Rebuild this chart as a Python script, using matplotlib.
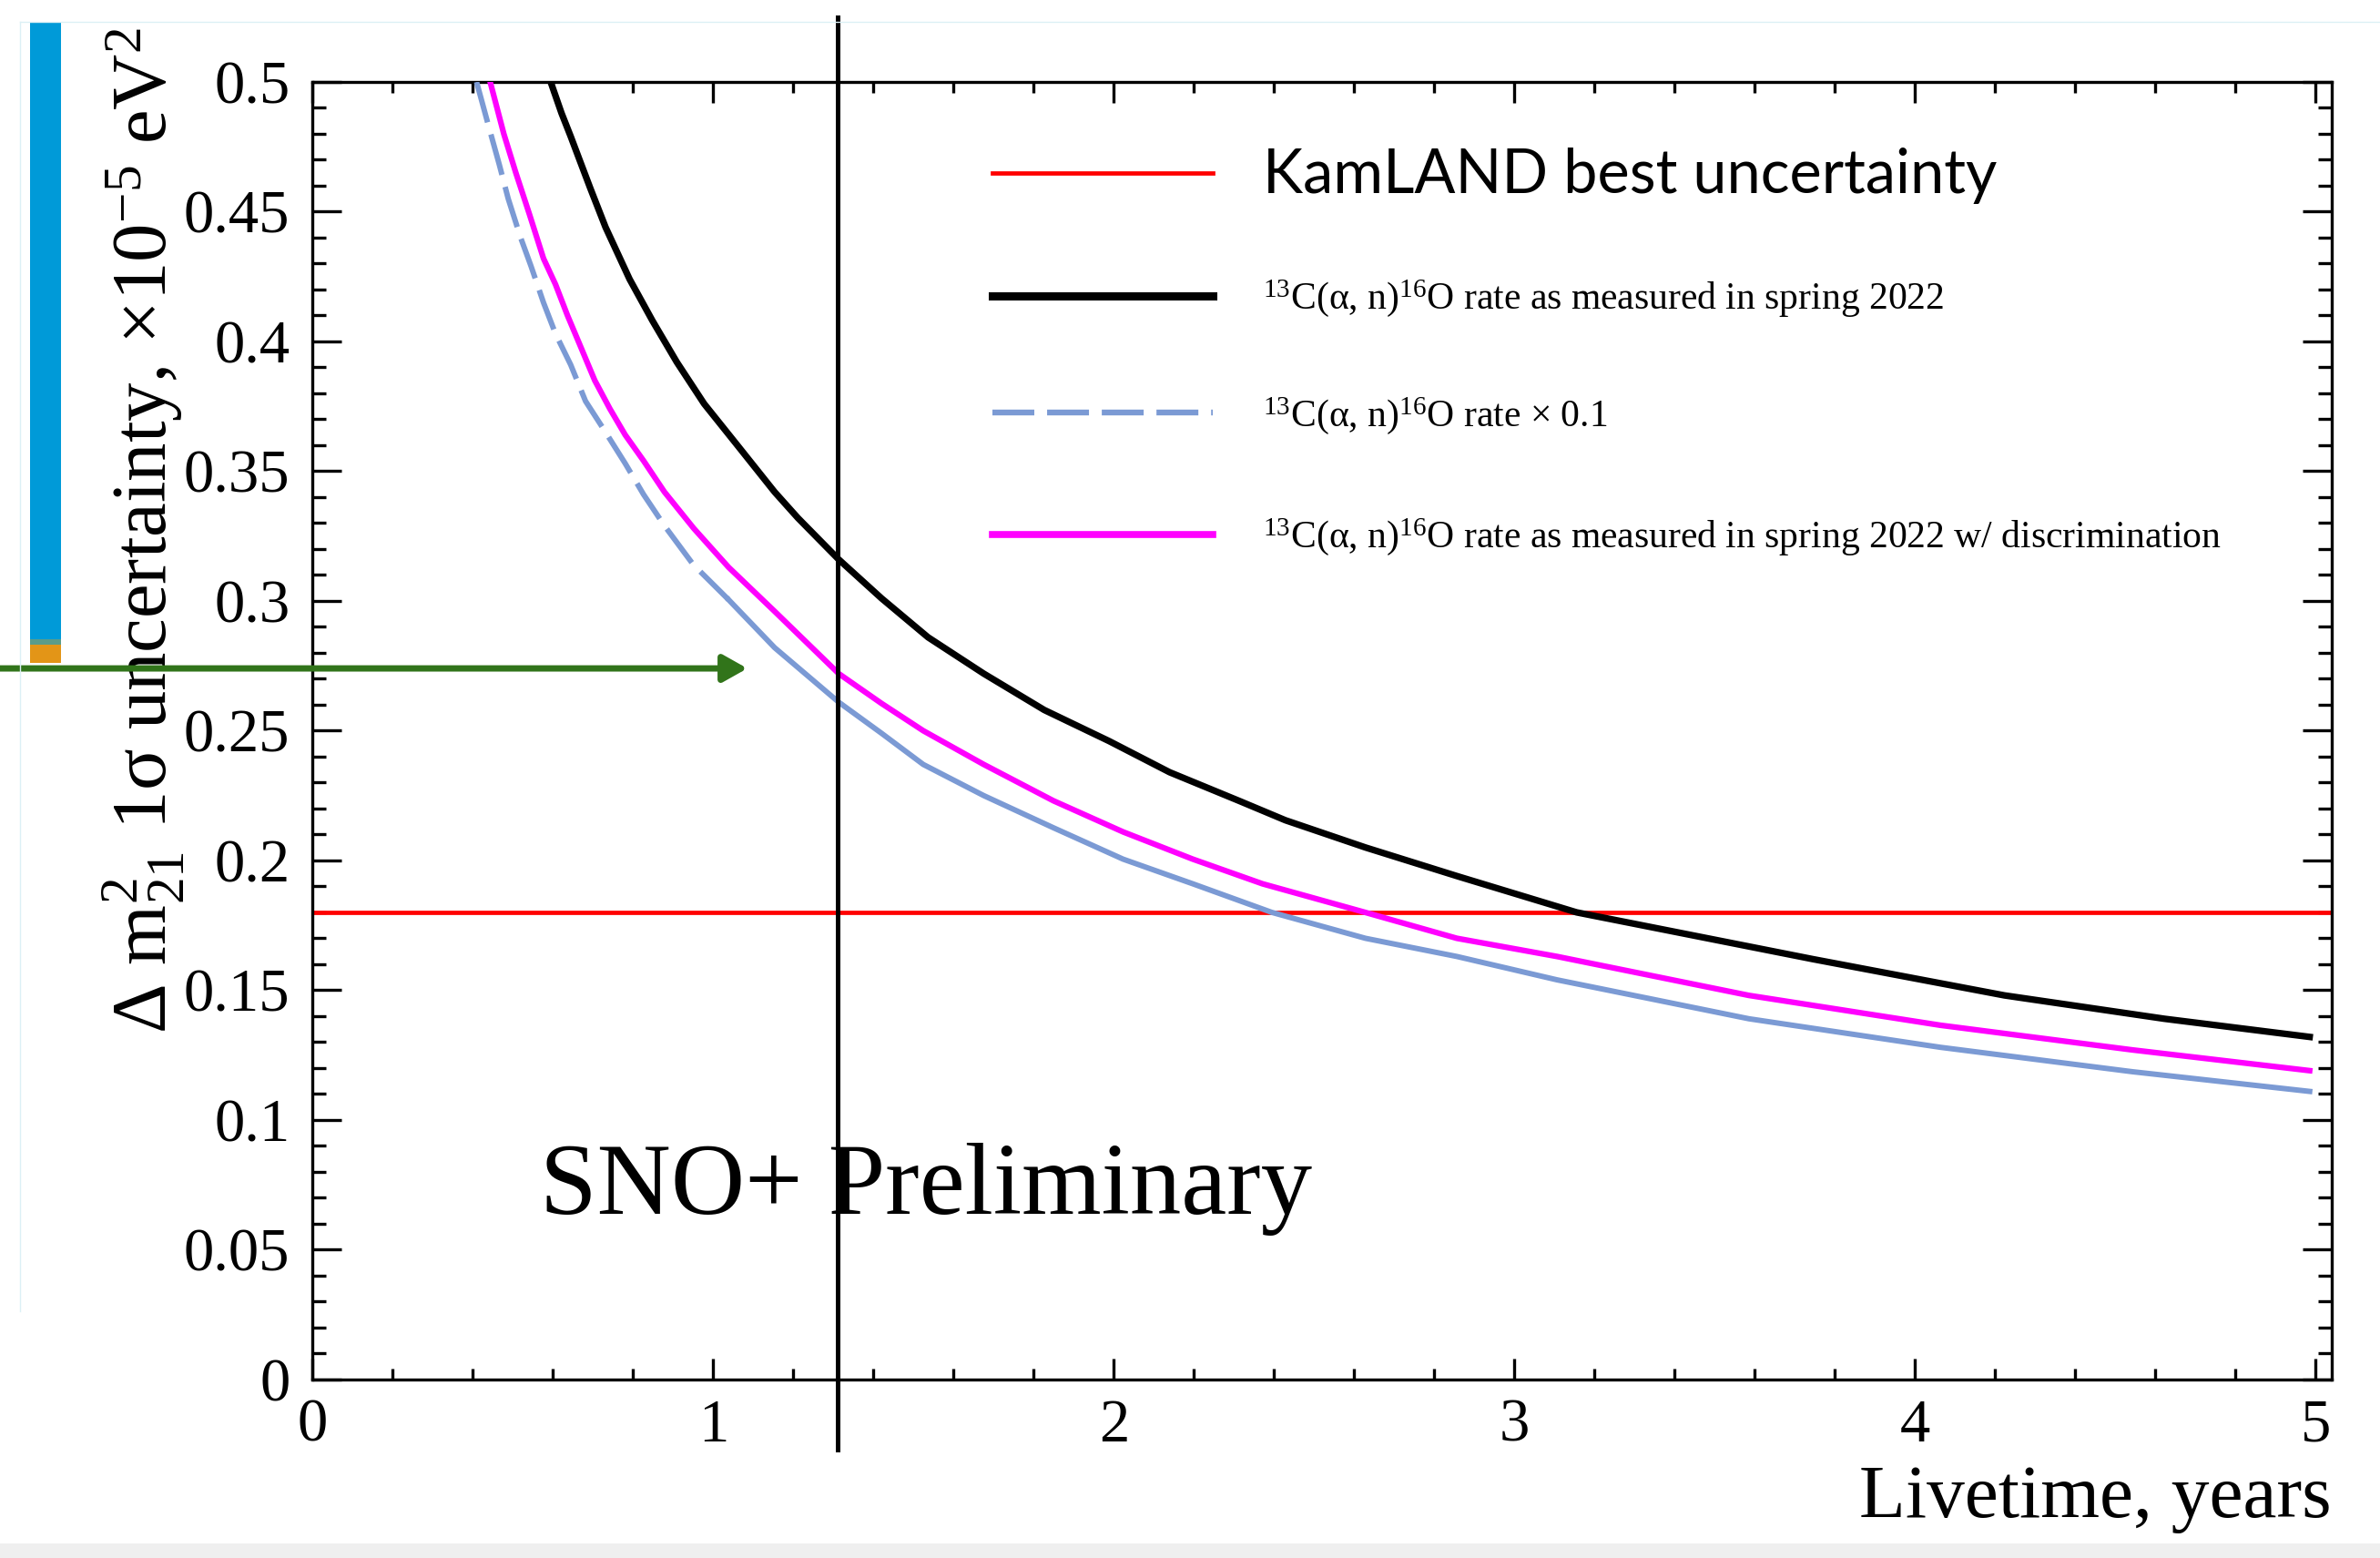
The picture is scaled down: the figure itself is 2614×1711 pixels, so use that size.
import matplotlib.pyplot as plt
from matplotlib.ticker import MultipleLocator, FormatStrFormatter
from matplotlib.patches import Rectangle
from matplotlib.lines import Line2D

plt.rcParams['font.family'] = ['Liberation Serif', 'DejaVu Serif']
plt.rcParams['mathtext.fontset'] = 'custom'
plt.rcParams['mathtext.rm'] = 'Liberation Serif'
plt.rcParams['mathtext.it'] = 'Liberation Serif:italic'

# ------------- Data ------------- #
t_spring = [0.594, 0.621, 0.644, 0.666, 0.693, 0.731, 0.791, 0.848, 0.909, 0.977,
            1.060, 1.153, 1.211, 1.313, 1.420, 1.536, 1.675, 1.826, 1.988, 2.139,
            2.312, 2.428, 2.628, 2.856, 3.155, 3.744, 4.223, 4.622, 4.985]
unc_spring = [0.500, 0.488, 0.479, 0.470, 0.459, 0.444, 0.424, 0.408, 0.392, 0.376,
              0.360, 0.342, 0.332, 0.316, 0.301, 0.286, 0.272, 0.258, 0.246, 0.234,
              0.223, 0.2155, 0.205, 0.194, 0.180, 0.162, 0.148, 0.139, 0.132]

t_scaled = [0.409, 0.439, 0.466, 0.488, 0.519, 0.545, 0.576, 0.606, 0.644, 0.681,
            0.727, 0.780, 0.826, 0.878, 0.950, 1.038, 1.153, 1.313, 1.420, 1.524,
            1.675, 1.849, 2.023, 2.197, 2.394, 2.628, 2.856, 3.106, 3.585, 4.063,
            4.542, 4.985]
unc_scaled = [0.500, 0.483, 0.468, 0.455, 0.440, 0.429, 0.415, 0.403, 0.391, 0.377,
              0.366, 0.353, 0.341, 0.329, 0.314, 0.3005, 0.282, 0.261, 0.249, 0.237,
              0.225, 0.2126, 0.2005, 0.191, 0.180, 0.170, 0.163, 0.154, 0.139, 0.128,
              0.1186, 0.111]

t_discr = [0.443, 0.477, 0.507, 0.541, 0.576, 0.606, 0.636, 0.666, 0.704, 0.742,
           0.780, 0.826, 0.878, 0.951, 1.038, 1.153, 1.313, 1.420, 1.524, 1.675,
           1.849, 2.023, 2.197, 2.371, 2.627, 2.856, 3.106, 3.585, 4.063, 4.542,
           4.985]
unc_discr = [0.500, 0.480, 0.465, 0.449, 0.432, 0.422, 0.410, 0.399, 0.385, 0.374,
             0.364, 0.354, 0.342, 0.328, 0.313, 0.296, 0.272, 0.2605, 0.250, 0.237,
             0.223, 0.211, 0.2005, 0.191, 0.180, 0.170, 0.163, 0.148, 0.1365, 0.127,
             0.119]

kamland_unc = 0.18
cut_livetime = 1.31
arrow_level = 0.274
arrow_tip = 1.085

labels = ['KamLAND best uncertainty',
          '$^{13}$C(α, n)$^{16}$O rate as measured in spring 2022',
          '$^{13}$C(α, n)$^{16}$O rate × 0.1',
          '$^{13}$C(α, n)$^{16}$O rate as measured in spring 2022 w/ discrimination']

BLUE = '#7b9ad4'
MAGENTA = '#ff00ff'

# ------------- Plot Setup ------------- #
fig = plt.figure(figsize=(26.14, 17.11), dpi=100)
ax = fig.add_axes([0.1314, 0.1146, 0.8483, 0.8328])
ax.set_xlim(0, 5.04)
ax.set_ylim(0, 0.5)

ax.axhline(kamland_unc, color='#ff0000', lw=3.4, zorder=2)

ax.plot(t_spring, unc_spring, color='black', lw=5.2, zorder=3)
# ROOT draws the dashed line in tiny segments, so it only looks dashed where steep
split = t_scaled.index(1.038)
ax.plot(t_scaled[:split + 1], unc_scaled[:split + 1], color=BLUE, lw=4.3,
        dashes=[7.7, 2.3], zorder=3)
ax.plot(t_scaled[split:], unc_scaled[split:], color=BLUE, lw=4.3, zorder=3)
ax.plot(t_discr, unc_discr, color=MAGENTA, lw=4.5, zorder=4)

ax.axvline(cut_livetime, ymin=-0.054, ymax=1.05, color='black', lw=3.6,
           clip_on=False, zorder=5)

# ------------- Axes style ------------- #
for s in ax.spines.values():
    s.set_linewidth(2.4)
ax.xaxis.set_major_locator(MultipleLocator(1))
ax.xaxis.set_minor_locator(MultipleLocator(0.2))
ax.yaxis.set_major_locator(MultipleLocator(0.05))
ax.yaxis.set_minor_locator(MultipleLocator(0.01))
ax.yaxis.set_major_formatter(FormatStrFormatter('%g'))
ax.tick_params(axis='both', which='both', direction='in', top=True, right=True, width=2.4)
ax.tick_params(axis='x', which='major', length=16.5, labelsize=48, pad=15)
ax.tick_params(axis='x', which='minor', length=8.6)
ax.tick_params(axis='y', which='major', length=23, labelsize=48, pad=18)
ax.tick_params(axis='y', which='minor', length=11)

ax.set_xlabel('Livetime, years', fontsize=60, loc='right')
ax.xaxis.set_label_coords(1.0, -0.066)
ax.set_ylabel('Δ $\\mathrm{m}^{2}_{21}$ 1σ uncertainty, ×10$^{-5}$ eV$^{2}$',
              fontsize=61, va='center', ha='center')
ax.yaxis.set_label_coords(-0.0837, 0.654)

ax.text(0.1125, 0.128, 'SNO+ Preliminary', transform=ax.transAxes, fontsize=81,
        ha='left', va='baseline')

# ------------- Legend (drawn by hand like the ROOT one) ------------- #
leg_y = [0.930, 0.8354, 0.7451, 0.6515]
leg_base = [0.9147, 0.8253, 0.7350, 0.6414]
leg_style = [dict(color='#ff0000', lw=3.4), dict(color='black', lw=6.5),
             dict(color=BLUE, lw=4.6, dashes=[7.2, 2.2]), dict(color=MAGENTA, lw=5.5)]
for i, lab in enumerate(labels):
    ax.add_line(Line2D([0.3366, 0.4458], [leg_y[i], leg_y[i]], transform=ax.transAxes,
                       **leg_style[i]))
    if i == 0:
        ax.text(0.4704, leg_base[i], lab, transform=ax.transAxes, fontsize=48,
                family=['Lato', 'DejaVu Sans'], va='baseline')
    else:
        ax.text(0.4704, leg_base[i], lab, transform=ax.transAxes, fontsize=30,
                va='baseline')

# ------------- Slide leftovers around the plot ------------- #
ax.annotate('', xy=(arrow_tip, arrow_level), xycoords='data',
            xytext=(0, arrow_level), textcoords=('figure fraction', 'data'),
            arrowprops=dict(arrowstyle='-|>,head_length=0.8,head_width=0.45',
                            color='#31741a', lw=5, mutation_scale=20,
                            shrinkA=0, shrinkB=0), zorder=6, annotation_clip=False)

fig.add_artist(Rectangle((33 / 2614, 1 - 702 / 1711), 34 / 2614, 677 / 1711,
                         transform=fig.transFigure, color='#009ad8', lw=0))
fig.add_artist(Rectangle((33 / 2614, 1 - 708 / 1711), 34 / 2614, 6 / 1711,
                         transform=fig.transFigure, color='#5a9c8a', lw=0))
fig.add_artist(Rectangle((33 / 2614, 1 - 728 / 1711), 34 / 2614, 20 / 1711,
                         transform=fig.transFigure, color='#e39517', lw=0))
fig.add_artist(Line2D([22 / 2614, 1], [1 - 24 / 1711, 1 - 24 / 1711],
                      transform=fig.transFigure, color='#dcf0f5', lw=1))
fig.add_artist(Line2D([22 / 2614, 22 / 2614], [1 - 24 / 1711, 1 - 1440 / 1711],
                      transform=fig.transFigure, color='#dcf0f5', lw=1))
fig.add_artist(Rectangle((0, 0), 1, 16 / 1711, transform=fig.transFigure,
                         color='#efefef', lw=0))

# ------------- Save ------------- #
fig.savefig('out.png', dpi=100)
